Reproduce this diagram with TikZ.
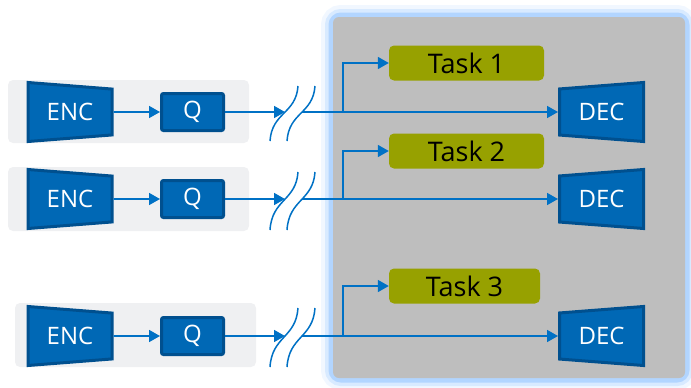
\documentclass[tikz,border=0pt]{standalone}
\usepackage{fontspec}
\setmainfont{Open Sans}
\usetikzlibrary{shapes.geometric,arrows.meta}

\definecolor{encblue}{HTML}{0068B5}
\definecolor{encdark}{HTML}{00508F}
\definecolor{flowblue}{HTML}{0071C5}
\definecolor{taskolive}{HTML}{97A100}
\definecolor{panelgray}{HTML}{BEBEBE}
\definecolor{rowgray}{HTML}{EFF0F2}
\definecolor{glowblue}{HTML}{9FCBFF}

\tikzset{
	flow/.style={draw=flowblue, line width=1.6pt, -{Triangle[length=11pt, width=12pt]}},
	cut/.style={draw=flowblue, line width=1.5pt},
	rowbox/.style={fill=rowgray, rounded corners=5pt},
	enc/.style={trapezium, trapezium stretches body, shape border rotate=270,
		trapezium left angle=82, trapezium right angle=82, fill=encblue, draw=encdark,
		line width=3pt, text=white, minimum height=84pt, minimum width=59pt, inner sep=0pt,
		font=\fontsize{24}{26}\selectfont},
	dec/.style={enc, shape border rotate=90},
	quant/.style={rectangle, rounded corners=2pt, fill=encblue, draw=encdark, line width=3pt,
		text=white, minimum width=62pt, minimum height=37pt, inner sep=0pt,
		font=\fontsize{24}{26}\selectfont},
	task/.style={rectangle, rounded corners=5pt, fill=taskolive, text=black,
		minimum width=155pt, minimum height=35pt, inner sep=0pt,
		font=\fontsize{27}{29}\selectfont}
}

\begin{document}
\begin{tikzpicture}[x=1pt, y=-1pt]
	
	\useasboundingbox (0,0) rectangle (691,388);
	
	%Receiver panel with glow
	\draw[glowblue!15, line width=24pt, rounded corners=8pt] (333,17) rectangle (685,378);
	\draw[glowblue!40, line width=16pt, rounded corners=8pt] (333,17) rectangle (685,378);
	\draw[glowblue!80, line width=9pt, rounded corners=8pt] (333,17) rectangle (685,378);
	\fill[panelgray, rounded corners=6pt] (333,17) rectangle (685,378);
	
	%Row backgrounds
	\fill[rowbox] (8,80) rectangle (249,143);
	\fill[rowbox] (8,167) rectangle (249,231);
	\fill[rowbox] (15,303) rectangle (256,367);
	
	%First row
	\node (enc1) at (70,112) [enc]{ENC};
	\node (q1) at (192.5,112) [quant]{Q};
	\node (task1) at (466.5,63) [task]{Task 1};
	\node (dec1) at (601.5,112) [dec]{DEC};
	\coordinate (cutin1) at (285,112);
	\coordinate (cutout1) at (302,112);
	\coordinate (split1) at (343,112);
	\draw[cut] (270,141) .. controls (272,112) and (296,114) .. (298,86);
	\draw[cut] (287,141) .. controls (289,112) and (313,114) .. (315,86);
	\draw[flow] (enc1) -- (q1);
	\draw[flow] (q1) -- (cutin1);
	\draw[flow] (cutout1) -- (dec1);
	\draw[flow] (split1) |- (task1.west);
	
	%Second row
	\node (enc2) at (70,199) [enc]{ENC};
	\node (q2) at (192.5,199) [quant]{Q};
	\node (task2) at (466.5,151) [task]{Task 2};
	\node (dec2) at (601.5,199) [dec]{DEC};
	\coordinate (cutin2) at (285,199);
	\coordinate (cutout2) at (302,199);
	\coordinate (split2) at (343,199);
	\draw[cut] (270,230) .. controls (272,199) and (296,201) .. (298,172);
	\draw[cut] (287,230) .. controls (289,199) and (313,201) .. (315,172);
	\draw[flow] (enc2) -- (q2);
	\draw[flow] (q2) -- (cutin2);
	\draw[flow] (cutout2) -- (dec2);
	\draw[flow] (split2) |- (task2.west);
	
	%Third row
	\node (enc3) at (70,336) [enc]{ENC};
	\node (q3) at (192.5,336) [quant]{Q};
	\node (task3) at (464.5,286) [task, minimum width=151pt]{Task 3};
	\node (dec3) at (601.5,336) [dec]{DEC};
	\coordinate (cutin3) at (285,336);
	\coordinate (cutout3) at (302,336);
	\coordinate (split3) at (343,336);
	\draw[cut] (270,367) .. controls (272,336) and (296,338) .. (298,308);
	\draw[cut] (287,367) .. controls (289,336) and (313,338) .. (315,308);
	\draw[flow] (enc3) -- (q3);
	\draw[flow] (q3) -- (cutin3);
	\draw[flow] (cutout3) -- (dec3);
	\draw[flow] (split3) |- (task3.west);
	
\end{tikzpicture}
\end{document}
